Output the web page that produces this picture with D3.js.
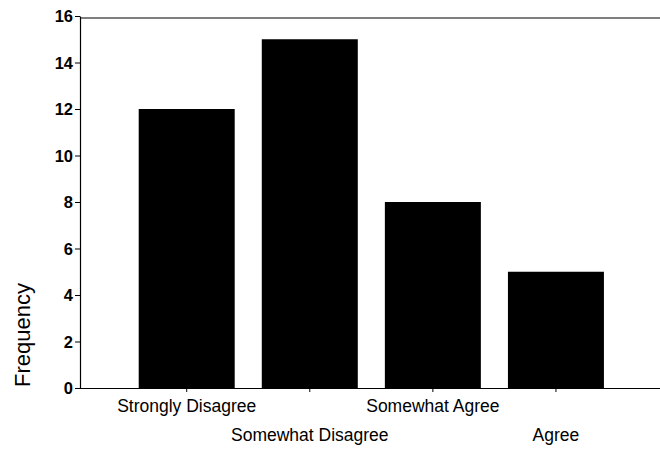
<!DOCTYPE html>
<html><head><meta charset="utf-8">
<script src="https://cdn.jsdelivr.net/npm/d3@7"></script>
<style>body{margin:0;background:#fff}svg{display:block}</style>
</head><body>
<svg id="c" width="660" height="450"></svg>
<script>
const categories = ["Strongly Disagree", "Somewhat Disagree", "Somewhat Agree", "Agree"];
const values = [12, 15, 8, 5];
const yTicks = [0, 2, 4, 6, 8, 10, 12, 14, 16];
const yLabel = "Frequency";

const svg = d3.select("#c");
const L = 80, R = 656, T = 16, B = 388;
const x = d3.scaleBand().domain(categories).range([L, R]).paddingInner(0.22).paddingOuter(0.45).align(0.53);
const y = d3.scaleLinear().domain([0, 16]).range([B, T]);

// bars
svg.append("g").selectAll("rect").data(values).join("rect")
  .attr("x", (d, i) => x(categories[i]))
  .attr("y", d => y(d))
  .attr("width", x.bandwidth())
  .attr("height", d => y(0) - y(d))
  .attr("fill", "#000");

// top frame line
svg.append("line").attr("x1", L).attr("x2", 660).attr("y1", T + 2).attr("y2", T + 2)
  .attr("stroke", "#000").attr("stroke-width", 1.2);

// y axis
const ya = svg.append("g").attr("transform", `translate(${L},0)`)
  .call(d3.axisLeft(y).tickValues(yTicks).tickFormat(d3.format("d")).tickSize(5).tickSizeOuter(0));
ya.select(".domain").attr("stroke-width", 1.2);
ya.selectAll("text").attr("font-family", "Liberation Sans, Arial, sans-serif")
  .attr("font-size", 16.5).attr("font-weight", "bold").attr("fill", "#000").attr("dy", "0.36em").attr("x", -7);

// x axis
const xa = svg.append("g").attr("transform", `translate(0,${B})`)
  .call(d3.axisBottom(x).tickSize(4).tickSizeOuter(0).tickFormat(""));
xa.select(".domain").attr("d", `M${L},0.5H660`).attr("stroke-width", 1.2);

// category labels (staggered)
svg.append("g").selectAll("text").data(categories).join("text")
  .attr("x", d => x(d) + x.bandwidth() / 2)
  .attr("y", (d, i) => i % 2 === 0 ? 412 : 441)
  .attr("text-anchor", "middle")
  .attr("font-family", "Liberation Sans, Arial, sans-serif")
  .attr("font-size", 17.5).attr("fill", "#000")
  .text(d => d);

// y label
svg.append("text").attr("transform", "translate(30,335) rotate(-90)")
  .attr("text-anchor", "middle")
  .attr("font-family", "Liberation Sans, Arial, sans-serif")
  .attr("font-size", 22).attr("fill", "#000")
  .text(yLabel);
</script>
</body></html>
